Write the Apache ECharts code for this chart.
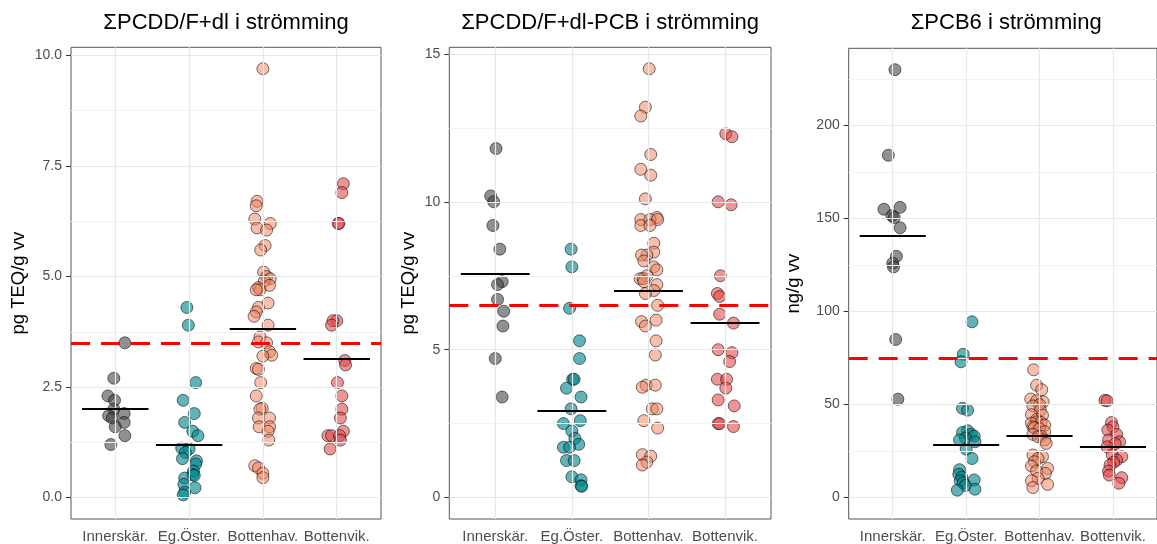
<!DOCTYPE html>
<html>
<head>
<meta charset="utf-8">
<script src="https://cdn.jsdelivr.net/npm/echarts@6.0.0/dist/echarts.min.js"></script>
<style>
  html, body { margin: 0; padding: 0; background: #fff; }
  #chart { width: 1157px; height: 544px; }
</style>
</head>
<body>
<div id="chart"></div>
<script>
// Sampling regions along the coast
const regions = ['Innerskär.', 'Eg.Öster.', 'Bottenhav.', 'Bottenvik.'];

// ΣPCDD/F+dl, pg TEQ/g vv (values and horizontal jitter per fish sample)
const dlInner = [3.5, 2.7, 2.3, 2.2, 2.0, 1.9, 1.85, 1.8, 1.7, 1.6, 1.4, 1.2];
const dlInnerJit = [0.13, -0.02, -0.10, -0.01, -0.02, 0.12, -0.09, -0.04, 0.12, 0.0, 0.13, -0.06];
const dlEg = [4.3, 3.9, 2.6, 2.2, 1.9, 1.7, 1.5, 1.4, 1.12, 1.1, 1.02, 0.88, 0.83, 0.76, 0.6, 0.52, 0.5, 0.44, 0.3, 0.22, 0.12, 0.06];
const dlEgJit = [-0.03, -0.01, 0.09, -0.08, 0.07, -0.06, 0.05, 0.12, -0.10, 0.0, -0.05, -0.09, 0.10, 0.09, 0.06, 0.05, 0.07, -0.06, -0.07, 0.08, -0.06, -0.08];
const dlBh = [9.7, 6.7, 6.6, 6.3, 6.2, 6.1, 6.05, 5.7, 5.6, 5.1, 5.0, 4.95, 4.9, 4.8, 4.75, 4.7, 4.7, 4.4, 4.3, 4.2, 4.1, 3.9, 3.63, 3.52, 3.5, 3.3, 3.22, 3.2, 2.92, 2.9, 2.6, 2.3, 2.02, 2.0, 1.8, 1.8, 1.6, 1.6, 1.5, 1.3, 0.72, 0.67, 0.55, 0.45];
const dlBhJit = [0.0, -0.08, -0.09, -0.11, 0.10, -0.08, 0.05, 0.03, -0.03, 0.01, 0.05, 0.10, 0.02, 0.09, -0.06, -0.04, -0.09, 0.07, -0.06, -0.09, -0.12, 0.07, -0.04, -0.06, 0.05, 0.09, 0.12, 0.0, -0.09, -0.06, -0.03, -0.09, -0.01, -0.04, -0.06, 0.09, -0.05, 0.09, 0.07, 0.08, -0.11, -0.06, 0.0, 0.0];
const dlBv = [7.1, 6.9, 6.2, 6.2, 4.0, 4.0, 3.9, 3.1, 3.0, 2.6, 2.3, 2.0, 1.8, 1.5, 1.4, 1.4, 1.4, 1.3, 1.1];
const dlBvJit = [0.09, 0.07, 0.03, 0.02, 0.0, -0.05, -0.07, 0.11, 0.12, 0.01, 0.07, 0.07, 0.05, 0.09, -0.12, -0.07, 0.04, 0.05, -0.09];
const dlMeans = [2.01, 1.19, 3.82, 3.13];
const dlLimit = 3.5;
const dlTicks = [0, 2.5, 5, 7.5, 10];
const dlMinor = [1.25, 3.75, 6.25, 8.75];

// ΣPCDD/F+dl-PCB, pg TEQ/g vv
const pcbInner = [11.8, 10.2, 10.0, 9.2, 8.4, 7.3, 7.2, 6.7, 6.3, 5.8, 4.7, 3.4];
const pcbInnerJit = [0.01, -0.06, -0.02, -0.03, 0.06, 0.09, 0.03, 0.03, 0.11, 0.10, 0.0, 0.09];
const pcbEg = [8.4, 7.8, 6.4, 5.3, 4.7, 4.0, 4.0, 3.7, 3.4, 3.0, 2.6, 2.5, 2.25, 2.0, 1.8, 1.7, 1.7, 1.25, 1.25, 0.7, 0.6, 0.4, 0.38];
const pcbEgJit = [-0.01, 0.0, -0.03, 0.10, 0.10, 0.01, 0.03, -0.07, 0.12, -0.01, 0.11, -0.11, 0.0, 0.04, 0.09, -0.11, -0.03, -0.07, 0.03, 0.0, 0.12, 0.12, 0.13];
const pcbBh = [14.5, 13.2, 12.9, 11.6, 11.1, 10.9, 10.1, 9.47, 9.4, 9.4, 9.4, 9.2, 9.2, 8.6, 8.3, 8.2, 8.2, 8.0, 7.8, 7.7, 7.5, 7.4, 7.4, 7.3, 7.2, 7.0, 6.9, 6.5, 6.0, 5.95, 5.8, 5.3, 4.82, 3.8, 3.8, 3.73, 3.0, 3.0, 2.6, 2.35, 1.45, 1.4, 1.2, 1.1];
const pcbBhJit = [0.01, -0.04, -0.10, 0.03, -0.10, 0.03, -0.04, 0.11, -0.10, 0.02, 0.12, -0.10, 0.02, 0.07, 0.07, -0.02, -0.09, -0.06, 0.07, 0.11, -0.02, -0.11, -0.07, -0.06, 0.11, 0.07, -0.04, 0.12, 0.10, -0.09, -0.04, 0.10, 0.09, -0.03, 0.09, -0.08, 0.05, 0.11, -0.06, 0.12, -0.08, 0.03, -0.02, -0.08];
const pcbBv = [12.3, 12.2, 10.0, 9.9, 7.5, 6.9, 6.8, 6.2, 5.9, 5.0, 4.9, 4.6, 4.0, 4.0, 3.7, 3.3, 3.1, 2.5, 2.5, 2.4];
const pcbBvJit = [0.01, 0.09, -0.09, 0.08, -0.06, -0.10, -0.07, -0.07, 0.11, -0.09, 0.09, 0.06, -0.10, 0.02, 0.01, -0.09, 0.12, -0.09, -0.07, 0.11];
const pcbMeans = [7.57, 2.94, 6.99, 5.91];
const pcbLimit = 6.5;
const pcbTicks = [0, 5, 10, 15];
const pcbMinor = [2.5, 7.5, 12.5];

// ΣPCB6, ng/g vv
const pcb6Inner = [230, 184, 155, 156, 151.5, 150.5, 145, 129.7, 126, 124, 85, 52.9];
const pcb6InnerJit = [0.03, -0.06, -0.12, 0.10, -0.01, 0.02, 0.10, 0.05, 0.0, 0.01, 0.04, 0.07];
const pcb6Eg = [94.5, 77, 73, 48, 47, 36, 35, 34, 33, 32, 31, 30, 26, 21, 15, 12.5, 11, 9.5, 9, 8, 6.5, 4.5, 4];
const pcb6EgJit = [0.08, -0.04, -0.07, -0.05, 0.02, 0.02, -0.05, 0.07, 0.11, -0.01, -0.09, 0.12, 0.0, 0.08, -0.09, -0.10, -0.06, 0.11, -0.08, -0.04, -0.01, 0.12, -0.12];
const pcb6Bh = [68.7, 60.4, 58, 53, 52, 51.4, 50, 49.3, 47, 44.6, 44.3, 42, 40.7, 40.4, 40, 39, 38, 37.5, 37, 35.4, 34, 33, 32.7, 31, 29.1, 22.9, 22, 21, 19.3, 17, 15.7, 14.3, 13, 10.4, 9.1, 7.1, 5.4];
const pcb6BhJit = [-0.08, -0.04, 0.03, -0.12, -0.04, 0.05, 0.0, -0.09, 0.01, -0.11, 0.04, -0.04, -0.04, 0.02, -0.11, 0.07, -0.09, -0.07, 0.0, 0.07, -0.09, 0.02, -0.02, 0.07, 0.09, -0.09, 0.04, -0.02, -0.07, -0.11, 0.11, -0.04, 0.08, -0.02, -0.11, 0.11, -0.09];
const pcb6Bv = [52.3, 52, 40.4, 38, 36.3, 34, 31, 30, 29, 27.3, 23, 22, 20.2, 19, 17.5, 14.3, 12.1, 10.7, 7.7];
const pcb6BvJit = [-0.11, -0.08, -0.02, 0.0, -0.07, 0.05, -0.06, 0.09, 0.03, -0.08, -0.01, 0.12, 0.05, 0.01, -0.04, -0.06, -0.05, 0.12, 0.08];
const pcb6Means = [140.6, 28.2, 33.0, 27.1];
const pcb6Limit = 75;
const pcb6Ticks = [0, 50, 100, 150, 200];
const pcb6Minor = [25, 75, 125, 175, 225];

const FONT = "'Liberation Sans', Arial, Helvetica, sans-serif";
const regionFill = ['rgba(62,62,62,0.72)', 'rgba(0,134,139,0.78)', 'rgba(240,132,98,0.66)', 'rgba(228,70,70,0.72)'];

const panels = [
  { title: 'ΣPCDD/F+dl i strömming', yName: 'pg TEQ/g vv',
    groups: [dlInner, dlEg, dlBh, dlBv], jitter: [dlInnerJit, dlEgJit, dlBhJit, dlBvJit],
    means: dlMeans, limit: dlLimit, ticks: dlTicks, minor: dlMinor, decimals: 1,
    box: { left: 71, top: 47.3, width: 310, height: 472.7 }, nameGap: 43 },
  { title: 'ΣPCDD/F+dl-PCB i strömming', yName: 'pg TEQ/g vv',
    groups: [pcbInner, pcbEg, pcbBh, pcbBv], jitter: [pcbInnerJit, pcbEgJit, pcbBhJit, pcbBvJit],
    means: pcbMeans, limit: pcbLimit, ticks: pcbTicks, minor: pcbMinor, decimals: 0,
    box: { left: 449.3, top: 47.3, width: 321.7, height: 473.4 }, nameGap: 31 },
  { title: 'ΣPCB6 i strömming', yName: 'ng/g vv',
    groups: [pcb6Inner, pcb6Eg, pcb6Bh, pcb6Bv], jitter: [pcb6InnerJit, pcb6EgJit, pcb6BhJit, pcb6BvJit],
    means: pcb6Means, limit: pcb6Limit, ticks: pcb6Ticks, minor: pcb6Minor, decimals: 0,
    box: { left: 848.7, top: 48.3, width: 315, height: 472.7 }, nameGap: 45 }
];

const catPos = regions.map((_, k) => k + 1);
const grid = [], xAxis = [], yAxis = [], series = [], graphic = [];

panels.forEach((p, i) => {
  grid.push(Object.assign({ show: true, backgroundColor: '#ffffff', borderColor: '#555555', borderWidth: 1 }, p.box));

  xAxis.push({
    gridIndex: i, type: 'value', min: 0.4, max: 4.6,
    axisLine: { show: false }, splitLine: { show: false },
    axisTick: { show: true, customValues: catPos, length: 5, lineStyle: { color: '#333333', width: 1 } },
    axisLabel: { customValues: catPos, formatter: v => regions[Math.round(v) - 1],
      color: '#4d4d4d', fontSize: 15, fontFamily: FONT, margin: 10 }
  });

  // 5 % padding around 0 .. max, as in the source figures
  const ymax = Math.max(...p.groups.flat());
  yAxis.push({
    gridIndex: i, type: 'value', min: -0.05 * ymax, max: 1.05 * ymax,
    name: p.yName, nameLocation: 'middle', nameGap: p.nameGap,
    nameTextStyle: { color: '#000000', fontSize: 18.5, fontFamily: FONT },
    axisLine: { show: false }, splitLine: { show: false },
    axisTick: { show: true, customValues: p.ticks, length: 5, lineStyle: { color: '#333333', width: 1 } },
    axisLabel: { customValues: p.ticks, formatter: v => v.toFixed(p.decimals),
      color: '#4d4d4d', fontSize: 14, fontFamily: FONT, margin: 9 }
  });

  // background grid lines
  series.push({
    type: 'scatter', xAxisIndex: i, yAxisIndex: i, data: [], silent: true, z: 1,
    markLine: {
      silent: true, animation: false, symbol: ['none', 'none'], label: { show: false },
      emphasis: { disabled: true },
      data: [
        ...p.minor.map(v => ({ yAxis: v, lineStyle: { color: '#f3f3f3', width: 1, type: 'solid' } })),
        ...p.ticks.map(v => ({ yAxis: v, lineStyle: { color: '#e8e8e8', width: 1.2, type: 'solid' } })),
        ...catPos.map(v => ({ xAxis: v, lineStyle: { color: '#e8e8e8', width: 1.2, type: 'solid' } }))
      ]
    }
  });

  // jittered samples
  p.groups.forEach((vals, k) => {
    series.push({
      name: regions[k], type: 'scatter', xAxisIndex: i, yAxisIndex: i, z: 2, silent: true,
      symbol: 'circle', symbolSize: 12, animation: false,
      itemStyle: { color: regionFill[k], borderColor: 'rgba(0,0,0,0.85)', borderWidth: 0.8 },
      data: vals.map((v, j) => [catPos[k] + p.jitter[k][j], v])
    });
  });

  // group means
  series.push({
    type: 'scatter', xAxisIndex: i, yAxisIndex: i, data: [], silent: true, z: 3,
    markLine: {
      silent: true, animation: false, symbol: ['none', 'none'], label: { show: false },
      emphasis: { disabled: true },
      lineStyle: { color: '#000000', width: 2, type: 'solid' },
      data: p.means.map((m, k) => [{ coord: [catPos[k] - 0.45, m] }, { coord: [catPos[k] + 0.45, m] }])
    }
  });

  // reference level
  series.push({
    type: 'scatter', xAxisIndex: i, yAxisIndex: i, data: [], silent: true, z: 4,
    markLine: {
      silent: true, animation: false, symbol: ['none', 'none'], label: { show: false },
      emphasis: { disabled: true },
      lineStyle: { color: '#ff0000', width: 3, type: [19, 11] },
      data: [{ yAxis: p.limit }]
    }
  });

  graphic.push({
    type: 'text', x: p.box.left + p.box.width / 2, y: 23, silent: true,
    style: { text: p.title, fill: '#000000', font: '22px ' + FONT,
      textAlign: 'center', textVerticalAlign: 'middle' }
  });
});

const chart = echarts.init(document.getElementById('chart'), null, { renderer: 'canvas' });
chart.setOption({
  animation: false,
  backgroundColor: '#ffffff',
  grid, xAxis, yAxis, series, graphic
});
</script>
</body>
</html>
